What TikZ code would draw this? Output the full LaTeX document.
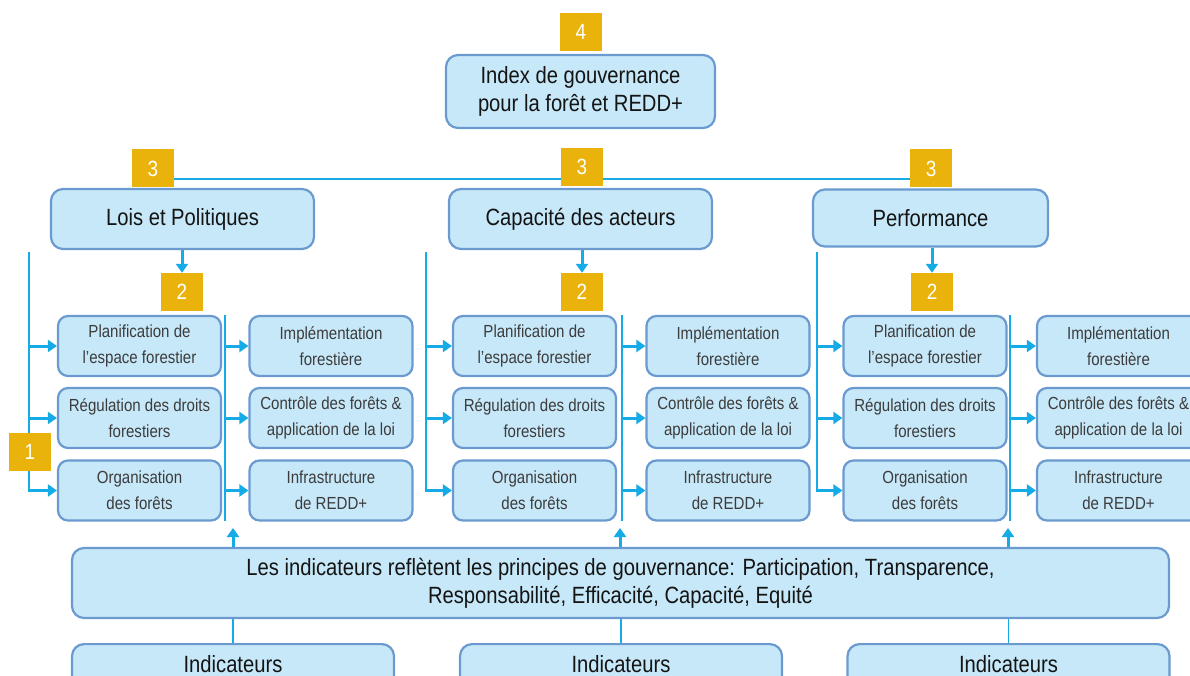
\documentclass[tikz,border=0pt]{standalone}
\usepackage{fontspec}
\setmainfont{Liberation Sans}[FakeStretch=0.86]
\usetikzlibrary{arrows.meta,backgrounds}
\definecolor{bfill}{HTML}{C7E8F8}
\definecolor{bbord}{HTML}{6A9AD0}
\definecolor{conn}{HTML}{14ABE6}
\definecolor{gold}{HTML}{E9B30C}
\definecolor{tgray}{HTML}{3C3C3C}
\definecolor{tdark}{HTML}{141414}
\tikzset{
  box/.style={draw=bbord, fill=bfill, rounded corners=12pt, line width=2.2pt, align=center, inner sep=0pt, text=tdark},
  bigfont/.style={font=\fontsize{23.5}{28}\selectfont},
  sbox/.style={box, rounded corners=10pt, minimum width=163pt, minimum height=60pt, text=tgray, font=\fontsize{17.5}{26}\selectfont},
  num/.style={fill=gold, text=white, minimum width=42pt, minimum height=38pt, inner sep=0pt, font=\fontsize{22}{24}\selectfont},
  thin/.style={draw=conn, line width=1.5pt},
  arr/.style={draw=conn, line width=3pt, -{Triangle[length=9pt,width=12pt]}},
}
\begin{document}
\begin{tikzpicture}[x=1pt,y=-1pt]
\useasboundingbox (0,0) rectangle (1190,676);
\begin{scope}
\clip (0,0) rectangle (1190,676);
% top
\node[num] (n4) at (581,32) {4};
\node[box, bigfont, minimum width=269pt, minimum height=73pt] (idx) at (580.5,91.5) {Index de gouvernance\\pour la forêt et REDD+};
\node[num] (n3a) at (153,168.5) {3};
\node[num] (n3b) at (582,167) {3};
\node[num] (n3c) at (931,168.5) {3};
\begin{scope}[on background layer]
\draw[thin] (n3a.center |- 0,179) -- (n3c.center |- 0,179);
\end{scope}
\node[box, bigfont, minimum width=263pt, minimum height=60pt] (lois) at (182.5,219) {Lois et Politiques};
\node[box, bigfont, minimum width=263pt, minimum height=60pt] (capa) at (580.5,219) {Capacité des acteurs};
\node[box, bigfont, minimum width=235pt, minimum height=57pt] (perf) at (930.5,218) {Performance};
% squares 2
\node[num] (s2a) at (182,292) {2};
\node[num] (s2b) at (582,292) {2};
\node[num] (s2c) at (932,292) {2};
\draw[arr] (lois.south -| s2a.north) -- (s2a.north);
\draw[arr] (capa.south -| s2b.north) -- (s2b.north);
\draw[arr] (perf.south -| s2c.north) -- (s2c.north);
% groups
\foreach \g/\va/\ca/\vb/\cb in {1/29/139.5/225/331, 2/426/534.5/622/728, 3/817/925/1010/1118.5}{
  \node[sbox] (p\g) at (\ca,346) {Planification de\\l’espace forestier};
  \node[sbox] (r\g) at (\ca,418) {Régulation des droits\\forestiers};
  \node[sbox] (o\g) at (\ca,490.5) {Organisation\\des forêts};
  \node[sbox] (i\g) at (\cb,346) {Implémentation\\forestière};
  \node[sbox] (c\g) at (\cb,418) {Contrôle des forêts \&\\application de la loi};
  \node[sbox] (f\g) at (\cb,490.5) {Infrastructure\\de REDD+};
  \coordinate (va\g t) at (\va,252);
  \coordinate (va\g b) at (\va,492);
  \coordinate (vb\g t) at (\vb,315);
  \coordinate (vb\g b) at (\vb,521);
  \draw[thin] (va\g t) -- (va\g b);
  \draw[thin] (vb\g t) -- (vb\g b);
  \draw[arr] (va\g t |- p\g.west) -- (p\g.west);
  \draw[arr] (va\g t |- r\g.west) -- (r\g.west);
  \draw[arr] (va\g t |- o\g.west) -- (o\g.west);
  \draw[arr] (vb\g t |- i\g.west) -- (i\g.west);
  \draw[arr] (vb\g t |- c\g.west) -- (c\g.west);
  \draw[arr] (vb\g t |- f\g.west) -- (f\g.west);
}
\node[num] (n1) at (30,452) {1};
% bottom
\node[box, bigfont, minimum width=1097pt, minimum height=70pt] (big) at (620.5,583) {Les indicateurs reflètent les principes de gouvernance: Participation, Transparence,\\Responsabilité, Efficacité, Capacité, Equité};
\node[box, minimum width=322pt, minimum height=60pt, anchor=north] (ind1) at (233,643) {};
\node[box, minimum width=322pt, minimum height=60pt, anchor=north] (ind2) at (621,643) {};
\node[box, minimum width=322pt, minimum height=60pt, anchor=north] (ind3) at (1008.5,643) {};
\node[bigfont, text=tdark, anchor=base] (t1) at (233,672) {Indicateurs};
\node[bigfont, text=tdark, anchor=base] (t2) at (621,672) {Indicateurs};
\node[bigfont, text=tdark, anchor=base] (t3) at (1008.5,672) {Indicateurs};
\coordinate (u1) at (233,528);
\coordinate (u2) at (620,528);
\coordinate (u3) at (1008,528);
\draw[arr] (u1 |- big.north) -- (u1);
\draw[arr] (u2 |- big.north) -- (u2);
\draw[arr] (u3 |- big.north) -- (u3);
\draw[thin, line width=1.2pt] (ind1.north |- big.south) -- (ind1.north);
\draw[thin, line width=1.2pt] (ind2.north |- big.south) -- (ind2.north);
\draw[thin, line width=1.2pt] (ind3.north |- big.south) -- (ind3.north);
\end{scope}
\end{tikzpicture}
\end{document}
